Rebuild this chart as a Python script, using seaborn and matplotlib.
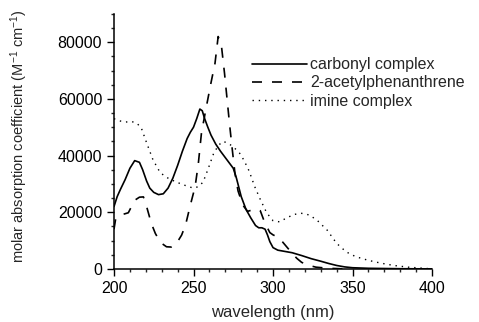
import numpy as np
import pandas as pd
import matplotlib
matplotlib.use("Agg")
import matplotlib.pyplot as plt
from matplotlib.ticker import MultipleLocator
import seaborn as sns

# carbonyl complex (solid)
carbonyl_wl = [200, 202, 204, 207, 210, 213, 216, 218, 220.5, 222.5, 225, 228, 231, 234, 237,
               240, 243, 246, 248, 250, 252, 254, 255.5, 257, 259, 261, 264, 267, 271, 275,
               277, 280, 283, 286, 289, 291, 293, 295, 296.5, 298, 300, 303, 307, 312, 318,
               324, 330, 335, 340, 345, 350, 360, 380, 400]
carbonyl_eps = [22000, 25500, 28000, 31500, 35500, 38200, 37600, 35000, 31000, 28500, 27000,
                26200, 26500, 28500, 32000, 36500, 41500, 46000, 48200, 50000, 53000, 56400,
                55800, 53000, 50000, 47200, 44000, 41500, 38500, 35500, 32000, 25500, 21000,
                18000, 15300, 14500, 14500, 14000, 12000, 9600, 7500, 6600, 6200, 5700, 4700,
                3600, 2700, 1900, 1200, 700, 400, 200, 50, 0]

# 2-acetylphenanthrene (dashed)
acetyl_wl = [200, 201, 203, 206, 209, 213, 216, 218.5, 220.5, 223.5, 226, 228, 230, 233, 236,
             239, 242.5, 245, 248, 251, 253, 255, 258, 261, 263.5, 265.5, 267.5, 269.5, 271,
             272.5, 274, 276, 278, 281, 284, 287, 290, 292, 294, 296, 298, 300, 303, 306,
             309, 312, 315, 318, 322, 327, 335, 345]
acetyl_eps = [14000, 17500, 18800, 19300, 19800, 24200, 25300, 25400, 22000, 16000, 12500,
              10500, 9000, 7800, 7700, 8700, 11900, 15500, 22500, 29000, 37000, 48000, 57000,
              65700, 72500, 82000, 79000, 69000, 60500, 52000, 44000, 34000, 27500, 22500,
              20300, 20800, 21200, 20500, 17500, 15000, 12800, 12000, 11200, 9500, 7500,
              5500, 3700, 2300, 1300, 600, 200, 0]

# imine complex (dotted)
imine_wl = [200, 203, 207, 211, 214, 217, 220.5, 224.5, 229, 233, 237, 242, 247, 250, 253, 256,
            259, 262.5, 265.5, 268.5, 271, 274, 277, 279.5, 282, 285, 288.5, 292, 296, 300,
            304, 308, 313, 318, 323, 328, 334, 340, 346, 352, 360, 368, 376, 385, 400]
imine_eps = [53000, 52300, 51800, 52000, 51500, 50000, 44500, 38500, 34000, 32300, 31200,
             30000, 29000, 28500, 29000, 30600, 35000, 40500, 43500, 45000, 44500, 43500,
             42000, 40500, 38000, 34500, 29000, 24500, 19800, 17000, 16600, 17800, 19200,
             19600, 19000, 17000, 13700, 9000, 6000, 4300, 3000, 2000, 1200, 600, 0]

labels = ["carbonyl complex", "2-acetylphenanthrene", "imine complex"]

sns.set_style("ticks")
plt.rcParams['font.family'] = ['Liberation Sans', 'DejaVu Sans']
plt.rcParams['mathtext.fontset'] = 'custom'
plt.rcParams['mathtext.rm'] = 'Liberation Sans'
plt.rcParams['mathtext.it'] = 'Liberation Sans'

fig = plt.figure(figsize=(4.79, 3.22), dpi=100)
ax = fig.add_axes([0.238, 0.165, 0.664, 0.792])

sns.lineplot(x=carbonyl_wl, y=carbonyl_eps, ax=ax, color="black", lw=1.2,
             label=labels[0])
sns.lineplot(x=acetyl_wl, y=acetyl_eps, ax=ax, color="black", lw=1.2,
             label=labels[1])
sns.lineplot(x=imine_wl, y=imine_eps, ax=ax, color="black", lw=1.0,
             label=labels[2])
ax.lines[1].set_linestyle((0, (6, 6)))
ax.lines[2].set_linestyle((0, (1, 3.5)))

ax.set_xlim(200, 400)
ax.set_ylim(0, 90000)
ax.xaxis.set_major_locator(MultipleLocator(50))
ax.xaxis.set_minor_locator(MultipleLocator(10))
ax.yaxis.set_minor_locator(MultipleLocator(5000))
ax.set_yticks([0, 20000, 40000, 60000, 80000])
ax.tick_params(which='major', length=5, width=1, labelsize=11.5, colors='black')
ax.tick_params(which='minor', length=2.5, width=1)
for s in ['left', 'bottom']:
    ax.spines[s].set_linewidth(1.1)
    ax.spines[s].set_color('black')
sns.despine(ax=ax)

ax.set_xlabel("wavelength (nm)", fontsize=12, labelpad=7)
ax.set_ylabel("molar absorption coefficient (M$^{-1}$ cm$^{-1}$)", fontsize=10.5)
ax.yaxis.set_label_coords(-0.265, 0.52)

leg = ax.legend(loc='upper left', bbox_to_anchor=(0.435, 0.83), frameon=False,
                fontsize=11.5, handlelength=3.4, handletextpad=0.2,
                labelspacing=0.2, borderaxespad=0, borderpad=0)

fig.savefig("out.png", dpi=100)
